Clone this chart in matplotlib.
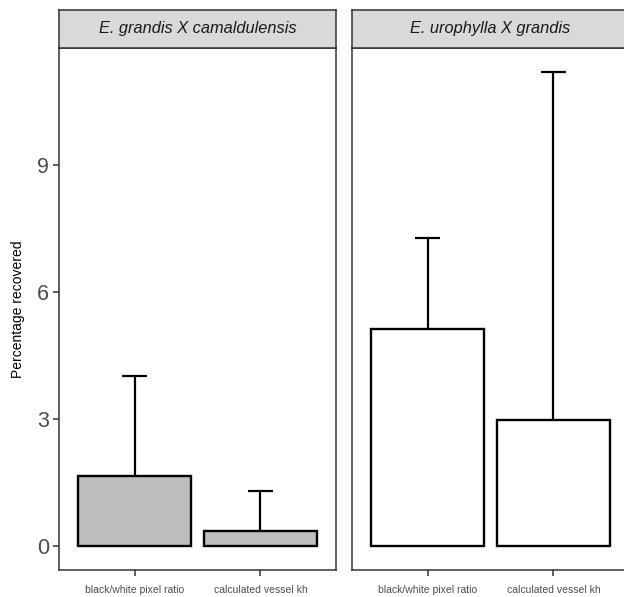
import numpy as np
import matplotlib
matplotlib.use('Agg')
import matplotlib.pyplot as plt

plt.rcParams['font.family'] = ['Liberation Sans', 'DejaVu Sans']

hybrids = ['E. grandis X camaldulensis', 'E. urophylla X grandis']
methods = ['black/white pixel ratio', 'calculated vessel kh']
means = {
    'E. grandis X camaldulensis': [1.65, 0.35],
    'E. urophylla X grandis': [5.13, 2.98],
}
upper = {
    'E. grandis X camaldulensis': [4.03, 1.30],
    'E. urophylla X grandis': [7.28, 11.19],
}
fills = {
    'E. grandis X camaldulensis': '#BEBEBE',
    'E. urophylla X grandis': '#FFFFFF',
}

W, H = 624, 597
fig = plt.figure(figsize=(W / 100, H / 100), dpi=100)

panel_w = 277
panel_lefts = [59, 352]
top_px, bottom_px, strip_top = 48, 570, 10

ymin, ymax = -0.56, 11.76
x = np.arange(len(methods))

for i, h in enumerate(hybrids):
    left = panel_lefts[i] / W
    ax = fig.add_axes([left, 1 - bottom_px / H, panel_w / W, (bottom_px - top_px) / H])
    m = np.array(means[h])
    u = np.array(upper[h])
    ax.bar(x, m, width=0.9, color=fills[h], edgecolor='black', linewidth=1.7, zorder=2)
    ax.vlines(x, m, u, color='black', linewidth=1.6, zorder=1)
    for xi, ui in zip(x, u):
        ax.hlines(ui, xi - 0.1, xi + 0.1, color='black', linewidth=1.6)
    ax.set_xlim(-0.6, 1.6)
    ax.set_ylim(ymin, ymax)
    ax.set_xticks(x)
    ax.set_xticklabels(methods, fontsize=7.5, color='#4D4D4D')
    ax.set_yticks([0, 3, 6, 9])
    for s in ax.spines.values():
        s.set_color('#333333')
        s.set_linewidth(1.1)
    ax.tick_params(axis='x', length=4, width=1.1, color='#333333', pad=7)
    if i == 0:
        ax.set_yticklabels(['0', '3', '6', '9'], fontsize=15.5, color='#4D4D4D')
        ax.tick_params(axis='y', length=4, width=1.1, color='#333333', pad=3)
        ax.set_ylabel('Percentage recovered', fontsize=10, labelpad=9)
    else:
        ax.tick_params(axis='y', left=False, labelleft=False)

    # facet strip
    sax = fig.add_axes([left, 1 - top_px / H, panel_w / W, (top_px - strip_top) / H])
    sax.set_facecolor('#D9D9D9')
    sax.set_xticks([])
    sax.set_yticks([])
    for s in sax.spines.values():
        s.set_color('#333333')
        s.set_linewidth(1.1)
    sax.text(0.5, 0.5, h, ha='center', va='center', fontsize=11.8,
             style='italic', color='#1A1A1A', transform=sax.transAxes)

fig.savefig('out.png', dpi=100)
